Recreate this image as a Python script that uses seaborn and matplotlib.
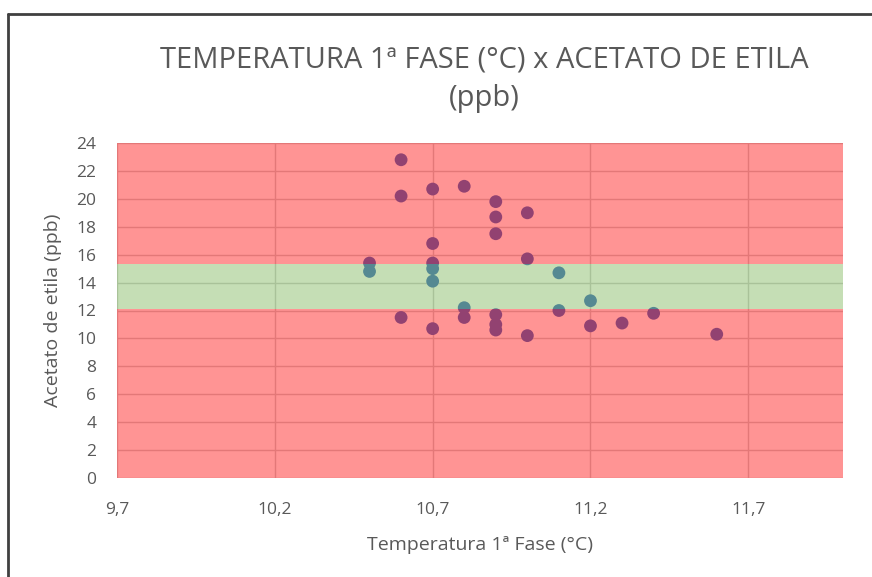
import matplotlib
matplotlib.use("Agg")
import matplotlib.pyplot as plt
import seaborn as sns
import pandas as pd
from matplotlib.lines import Line2D

# Data
temperatura = [10.5, 10.5,
               10.6, 10.6, 10.6,
               10.7, 10.7, 10.7, 10.7, 10.7, 10.7,
               10.8, 10.8, 10.8,
               10.9, 10.9, 10.9, 10.9, 10.9, 10.9,
               11.0, 11.0, 11.0,
               11.1, 11.1,
               11.2, 11.2,
               11.3, 11.4, 11.6]
acetato = [15.4, 14.8,
           22.8, 20.2, 11.5,
           20.7, 16.8, 15.4, 15.0, 14.1, 10.7,
           20.9, 12.2, 11.5,
           19.8, 18.7, 17.5, 11.7, 11.0, 10.6,
           19.0, 15.7, 10.2,
           14.7, 12.0,
           12.7, 10.9,
           11.1, 11.8, 10.3]

band_low = 12.1
band_high = 15.3

x_ticks = [9.7, 10.2, 10.7, 11.2, 11.7]
x_ticklabels = ["9,7", "10,2", "10,7", "11,2", "11,7"]
y_ticks = [0, 2, 4, 6, 8, 10, 12, 14, 16, 18, 20, 22, 24]
y_ticklabels = [str(v) for v in y_ticks]

title = "TEMPERATURA 1ª FASE (°C) x ACETATO DE ETILA\n(ppb)"
xlabel = "Temperatura 1ª Fase (°C)"
ylabel = "Acetato de etila (ppb)"

df = pd.DataFrame({"temp": temperatura, "acetato": acetato})

sns.set_theme(style="white")
plt.rcParams["font.family"] = ["Open Sans", "DejaVu Sans"]

txt = "#595959"
fig = plt.figure(figsize=(8.72, 5.77), dpi=100)
ax = fig.add_axes([117/872, 1 - 478/577, (843 - 117)/872, (478 - 143)/577])

sns.scatterplot(data=df, x="temp", y="acetato", ax=ax, s=85,
                color=(68/255, 114/255, 196/255), edgecolor="none", zorder=3, legend=False)

ax.set_xlim(9.7, 12.0)
ax.set_ylim(0, 24)
ax.set_xticks(x_ticks)
ax.set_xticklabels(x_ticklabels)
ax.set_yticks(y_ticks)
ax.set_yticklabels(y_ticklabels)
ax.grid(True, color="#d0d0d0", linewidth=1.0, zorder=1)
ax.set_axisbelow(True)
for s in ax.spines.values():
    s.set_visible(False)
ax.tick_params(axis="both", length=0, labelsize=12.5, colors=txt)
ax.tick_params(axis="x", pad=17)
ax.tick_params(axis="y", pad=15)

# Transparent overlays on top of the points
ax.axhspan(0, band_low, color=(1.0, 0.0, 0.0), alpha=0.42, lw=0, zorder=4)
ax.axhspan(band_high, 24, color=(1.0, 0.0, 0.0), alpha=0.42, lw=0, zorder=4)
ax.axhspan(band_low, band_high, color=(112/255, 173/255, 71/255), alpha=0.40, lw=0, zorder=4)

ax.set_xlabel("")
ax.set_ylabel("")
fig.text(480/872, 1 - 545/577, xlabel, ha="center", va="center", fontsize=14, color=txt)
fig.text(53/872, 1 - 310/577, ylabel, ha="center", va="center", rotation=90, fontsize=14, color=txt)
fig.text(484/872, 1 - 79/577, title, ha="center", va="center", fontsize=21,
         color=txt, linespacing=1.45)

# Chart border
fig.add_artist(Line2D([8/872, 8/872], [0, 1 - 14/577], transform=fig.transFigure,
                      color="#404040", lw=2))
fig.add_artist(Line2D([8/872, 1], [1 - 14/577, 1 - 14/577], transform=fig.transFigure,
                      color="#404040", lw=2))

fig.savefig("out.png", dpi=100)
